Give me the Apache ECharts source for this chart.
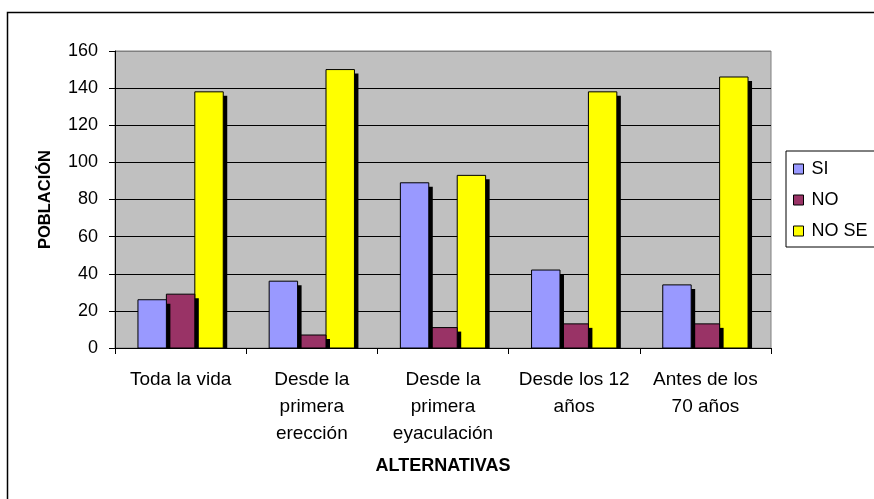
<!DOCTYPE html>
<html>
<head>
<meta charset="utf-8">
<script src="https://cdn.jsdelivr.net/npm/echarts@6/dist/echarts.min.js"></script>
<style>
  html, body { margin: 0; padding: 0; background: #fff; }
  #chart { width: 874px; height: 499px; }
</style>
</head>
<body>
<div id="chart"></div>
<script>
// Categories (with line breaks for the axis labels)
const categories = [
  'Toda la vida',
  'Desde la\nprimera\nerección',
  'Desde la\nprimera\neyaculación',
  'Desde los 12\naños',
  'Antes de los\n70 años'
];
const seriesNames = ['SI', 'NO', 'NO SE'];
const siValues   = [26, 36, 89, 42, 34];
const noValues   = [29, 7, 11, 13, 13];
const noseValues = [138, 150, 93, 138, 146];
const yTicks = { min: 0, max: 160, interval: 20 };

const colors = ['#9999FF', '#993366', '#FFFF00'];
const font = '"Liberation Sans", Arial, sans-serif';
const groupFraction = 0.65;   // share of each category band used by the three bars
const shadowDx = 4, shadowDy = 4;

// Bar with a solid drop shadow, positioned through the axes' scales
function makeRenderer(seriesIdx, nSeries) {
  return function (params, api) {
    const cat = api.value(0);
    const val = api.value(1);
    const base = api.coord([cat, 0]);
    const top = api.coord([cat, val]);
    const band = api.size([1, 0])[0];
    const barW = band * groupFraction / nSeries;
    const x = base[0] - barW * nSeries / 2 + seriesIdx * barW;
    const h = base[1] - top[1];
    return {
      type: 'group',
      children: [
        {
          type: 'rect',
          shape: { x: x + shadowDx, y: top[1] + shadowDy, width: barW, height: Math.max(0, h - shadowDy) },
          style: { fill: '#000' }
        },
        {
          type: 'rect',
          shape: { x: x, y: top[1], width: barW, height: h },
          style: { fill: api.visual('color'), stroke: '#000', lineWidth: 1 }
        }
      ]
    };
  };
}

function barSeries(idx, data) {
  return {
    name: seriesNames[idx],
    type: 'custom',
    renderItem: makeRenderer(idx, seriesNames.length),
    itemStyle: { color: colors[idx] },
    encode: { x: 0, y: 1 },
    data: data.map((v, i) => [i, v]),
    z: 3 - idx
  };
}

const chart = echarts.init(document.getElementById('chart'));
chart.setOption({
  animation: false,
  backgroundColor: '#fff',
  textStyle: { fontFamily: font },
  graphic: [{
    type: 'rect',
    left: 5, top: 10,
    shape: { width: 900, height: 600 },
    style: { fill: 'none', stroke: '#000', lineWidth: 1.5 },
    silent: true
  }],
  grid: {
    left: 115, right: 103, top: 51, bottom: 151,
    show: true,
    backgroundColor: '#C0C0C0',
    borderColor: '#808080',
    borderWidth: 1
  },
  legend: {
    orient: 'vertical',
    left: 786, top: 151,
    data: seriesNames,
    itemWidth: 10, itemHeight: 10,
    itemGap: 13,
    padding: [9, 40, 7, 7],
    borderColor: '#000',
    borderWidth: 1,
    backgroundColor: '#fff',
    icon: 'rect',
    itemStyle: { borderColor: '#000', borderWidth: 1 },
    textStyle: { fontFamily: font, fontSize: 18, color: '#000', padding: [0, 0, 0, 3] }
  },
  xAxis: {
    type: 'category',
    data: categories,
    name: 'ALTERNATIVAS',
    nameLocation: 'middle',
    nameGap: 109,
    nameTextStyle: { fontFamily: font, fontSize: 18, fontWeight: 'bold', color: '#000' },
    axisLine: { lineStyle: { color: '#000', width: 1 } },
    axisTick: { show: true, length: 6, lineStyle: { color: '#000' } },
    axisLabel: {
      interval: 0,
      margin: 18,
      fontFamily: font, fontSize: 19, color: '#000',
      lineHeight: 27
    }
  },
  yAxis: {
    type: 'value',
    min: yTicks.min, max: yTicks.max, interval: yTicks.interval,
    name: 'POBLACIÓN',
    nameLocation: 'middle',
    nameGap: 61,
    nameRotate: 90,
    nameTextStyle: { fontFamily: font, fontSize: 16.5, fontWeight: 'bold', color: '#000' },
    axisLine: { show: true, lineStyle: { color: '#000', width: 1 } },
    axisTick: { show: true, length: 6, lineStyle: { color: '#000' } },
    axisLabel: { fontFamily: font, fontSize: 18, color: '#000', margin: 17 },
    splitLine: {
      show: true,
      lineStyle: {
        color: ['#000', '#000', '#000', '#000', '#000', '#000', '#000', '#000', '#808080'],
        width: 1.2
      }
    }
  },
  series: [
    barSeries(0, siValues),
    barSeries(1, noValues),
    barSeries(2, noseValues)
  ]
});
</script>
</body>
</html>
